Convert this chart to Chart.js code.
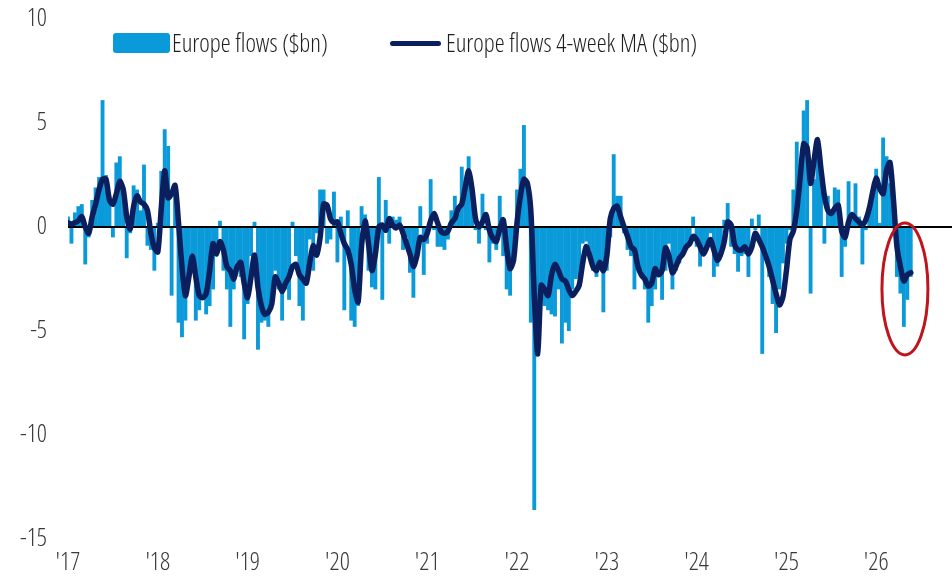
<!DOCTYPE html>
<html lang="en">
<head>
<meta charset="UTF-8">
<title>Europe flows</title>
<script src="https://cdn.jsdelivr.net/npm/chart.js@4.4.1/dist/chart.umd.min.js"></script>
<style>
  body { margin: 0; background: #fff; overflow: hidden; }
  #wrap { position: relative; width: 952px; height: 580px; }
  .lg { position: absolute; font-family: 'Open Sans', sans-serif; font-weight: 300; font-stretch: 83%;
        font-size: 25px; line-height: 25px; color: #1e1e1e; white-space: nowrap; }
  .sw-bar { position: absolute; left: 113px; top: 33px; width: 57px; height: 20px; background: #0a9ad9; border-radius: 3px; }
  .sw-line { position: absolute; left: 390px; top: 41px; width: 51px; height: 5px; background: #0b1f5e; border-radius: 3px; }
</style>
</head>
<body>
<div id="wrap">
  <canvas id="chart" width="952" height="580"></canvas>
  <div class="sw-bar"></div>
  <div class="lg" style="left:172px; top:30px;">Europe flows ($bn)</div>
  <div class="sw-line"></div>
  <div class="lg" style="left:446px; top:30px;">Europe flows 4-week MA ($bn)</div>
</div>
<script>
// fortnightly readings, first one at the start of 2017
const startYear = 2017;
const perYear = 26;

const flows = [
  0.5, -0.8, 0.7, 1.0, 1.1, -1.8, -0.5, 1.3, 1.9, 2.4,
  6.1, 2.5, 1.5, -0.5, 3.1, 3.4, 1.9, -1.5, -0.3, 2.0,
  1.8, 0.8, 3.0, -0.9, -1.1, -2.1, 0.2, 2.7, 4.7, 3.9,
  -3.3, 1.5, -4.6, -5.3, -4.5, -2.4, -1.3, -4.5, -4.0, -3.3,
  -4.2, -3.8, -3.0, -0.9, 0.3, -2.1, -3.0, -4.8, -3.0, -1.7,
  -2.4, -5.4, -3.7, -1.4, 0.25, -5.9, -4.6, -4.5, -4.8, -3.7,
  -2.1, -3.0, -4.5, -3.0, -3.5, 0.25, -1.4, -3.8, -4.5, -2.4,
  -0.6, -2.1, -0.3, 1.8, 1.8, -0.8, -0.6, 1.7, -1.7, 0.5,
  -4.0, 0.8, -4.5, -4.8, -3.8, 1.0, 0.6, -2.1, -2.9, -3.0,
  2.4, -3.5, 1.3, -0.8, 0.5, 0.35, 0.5, -1.1, -0.5, -2.2,
  -3.4, -1.1, 1.0, -2.3, -0.8, 2.3, -0.15, -0.95, -0.95, -1.1,
  -0.6, 0.8, 1.5, 0.65, 2.9, 1.8, 3.4, 1.8, -0.15, -0.8,
  1.6, -0.15, -1.7, -0.8, -1.1, 1.5, -1.4, -3.0, -3.3, -1.4,
  1.8, 2.8, 4.9, 1.9, -4.6, -13.6, -5.3, -2.7, -3.8, -4.0,
  -4.2, -4.3, -3.0, -5.6, -4.6, -5.0, -3.0, -2.5, -2.4, -0.8,
  -0.7, -1.1, -2.1, -2.4, -1.75, -4.1, -2.1, -0.5, 3.5, 1.5,
  1.5, -0.3, -1.1, -1.4, -3.0, -1.9, -2.1, -3.0, -4.6, -3.8,
  -3.0, -2.4, -3.5, -2.1, -0.8, -3.0, -2.1, -1.75, -1.4, -1.1,
  -0.6, 0.5, -0.95, -1.9, -1.3, -0.8, -0.3, -2.4, -1.9, -1.1,
  0.35, 1.15, -0.95, -1.3, -2.15, -1.4, -1.3, -2.4, 0.4, -0.15,
  0.6, -6.1, -1.3, -2.4, -3.7, -5.1, -3.0, -1.75, -0.8, -0.15,
  1.8, 4.1, 2.3, 5.6, 6.1, -3.2, 2.3, 3.7, 2.6, -0.8,
  1.5, 0.8, 1.9, 1.8, -2.4, -0.95, 2.2, 0.35, 2.1, 0.5,
  -1.8, -0.15, 0.8, 1.8, 2.8, 0.2, 4.3, 3.4, 2.1, 0.8,
  -2.4, -3.2, -4.8, -3.5, -2.4
];

const flowsMA = [
  0.2, 0.15, 0.2, 0.3, 0.5, 0.0, -0.3, 0.5, 1.1, 1.8,
  2.3, 2.3, 1.3, 1.1, 1.6, 2.2, 1.8, 0.5, -0.1, 1.0,
  1.5, 1.2, 1.1, 0.8, -0.3, -1.0, -1.2, 0.9, 2.7, 1.4,
  1.6, 2.0, 0.2, -1.9, -3.3, -2.4, -1.4, -2.4, -3.3, -3.4,
  -3.2, -2.1, -0.8, -1.3, -0.7, -1.1, -1.9, -2.1, -2.5, -1.9,
  -1.7, -2.7, -3.4, -2.4, -1.35, -2.9, -3.8, -4.2, -4.1, -3.7,
  -2.4, -2.7, -3.1, -2.7, -2.4, -1.9, -1.8, -2.3, -2.5, -2.7,
  -1.7, -0.9, -1.35, -0.5, 1.1, 1.05, 0.4, 0.2, 0.25, -0.3,
  -0.8, -1.1, -1.8, -3.0, -3.6, -0.9, 0.3, -0.8, -2.1, -1.3,
  0.0, 0.1, -0.15, 0.4, 0.1, -0.05, 0.1, -0.3, -0.8, -1.3,
  -1.9, -1.4, -0.5, -0.6, -0.3, 0.3, 0.65, 0.2, -0.2, -0.3,
  -0.2, 0.2, 0.4, 0.9, 1.1, 1.9, 2.7, 1.8, 0.4, 0.0,
  0.25, 0.6, -0.15, -0.55, -0.7, -0.1, 0.35, -1.0, -2.0, -1.6,
  0.2, 1.5, 2.3, 2.1, 0.8, -3.3, -6.1, -2.8, -3.0, -3.3,
  -2.3, -1.8, -2.1, -2.5, -2.6, -3.0, -3.3, -3.1, -2.8, -1.75,
  -0.95, -1.35, -1.9, -2.1, -1.7, -2.1, -1.4, 0.4, 0.9, 1.0,
  0.5, 0.0, -0.45, -0.95, -1.1, -1.9, -2.3, -2.5, -2.85, -2.7,
  -2.0, -2.3, -2.1, -1.0, -1.4, -2.2, -1.9, -1.5, -1.3, -0.95,
  -0.8, -0.45, -0.6, -0.95, -1.3, -0.95, -0.6, -1.1, -1.6, -1.3,
  -0.7, 0.25, 0.1, -0.85, -1.1, -1.1, -0.95, -1.3, -0.95, -0.3,
  -0.6, -0.95, -1.4, -1.9, -2.55, -3.2, -3.75, -3.35, -2.1, -0.6,
  -0.2, 0.8, 2.4, 4.0, 3.8, 2.1, 3.2, 4.2, 2.8, 1.5,
  0.8, 0.65, 0.9, 1.05, -0.2, -0.5, 0.25, 0.6, 0.4, 0.25,
  0.1, 0.35, 0.9, 1.7, 2.35, 1.85, 1.6, 2.75, 3.1, 1.3,
  -0.95, -1.9, -2.6, -2.3, -2.2
];

const yearTicks = [2017, 2018, 2019, 2020, 2021, 2022, 2023, 2024, 2025, 2026];
const yearLabels = ["'17", "'18", "'19", "'20", "'21", "'22", "'23", "'24", "'25", "'26"];

// red ring drawn round the latest readings (centre and half-axes in data units)
const ringCentre = [2026.32, -2.98];
const ringRadius = [0.256, 3.17];

const weeks = flows.map((_, i) => startYear + i / perYear);

// weight string carries the stretch too, so the canvas gets a condensed face
const tickFont = { family: "'Open Sans', sans-serif", size: 25, weight: '300 condensed' };

const zeroLine = {
  id: 'zeroLine',
  beforeDatasetDraw(chart, args) {
    if (args.index !== 1) return;
    const { ctx, chartArea, scales } = chart;
    const y = scales.y.getPixelForValue(0);
    ctx.save();
    ctx.strokeStyle = '#000';
    ctx.lineWidth = 2;
    ctx.beginPath();
    ctx.moveTo(chartArea.left, y);
    ctx.lineTo(chartArea.right, y);
    ctx.stroke();
    ctx.restore();
  }
};

const ring = {
  id: 'ring',
  afterDatasetsDraw(chart) {
    const { ctx, scales } = chart;
    const cx = scales.x.getPixelForValue(ringCentre[0]);
    const cy = scales.y.getPixelForValue(ringCentre[1]);
    const rx = scales.x.getPixelForValue(ringCentre[0] + ringRadius[0]) - cx;
    const ry = cy - scales.y.getPixelForValue(ringCentre[1] + ringRadius[1]);
    ctx.save();
    ctx.strokeStyle = '#c0141c';
    ctx.lineWidth = 3;
    ctx.beginPath();
    ctx.ellipse(cx, cy, rx, ry, 0, 0, Math.PI * 2);
    ctx.stroke();
    ctx.restore();
  }
};

new Chart(document.getElementById('chart'), {
  type: 'bar',
  data: {
    labels: weeks,
    datasets: [
      {
        label: 'Europe flows ($bn)',
        data: flows,
        backgroundColor: '#0a9ad9',
        borderWidth: 0,
        barPercentage: 1.12,
        categoryPercentage: 1.0,
        order: 2
      },
      {
        type: 'line',
        label: 'Europe flows 4-week MA ($bn)',
        data: flowsMA,
        borderColor: '#0b1f5e',
        borderWidth: 5.5,
        pointRadius: 0,
        tension: 0.25,
        borderJoinStyle: 'round',
        borderCapStyle: 'round',
        order: 1
      }
    ]
  },
  options: {
    responsive: false,
    devicePixelRatio: 1,
    animation: false,
    layout: { padding: { top: 19, right: 0, bottom: 0, left: 0 } },
    plugins: { legend: { display: false }, tooltip: { enabled: false } },
    scales: {
      x: {
        type: 'linear',
        min: 2017,
        max: 2026.844,
        offset: false,
        grid: { display: false, drawTicks: false },
        border: { display: false },
        afterBuildTicks(s) { s.ticks = yearTicks.map(v => ({ value: v })); },
        afterFit(s) { s.height = 41; s.paddingLeft = 0; s.paddingRight = 0; },
        ticks: {
          autoSkip: false,
          maxRotation: 0,
          padding: 9,
          color: '#3a3a3a',
          font: tickFont,
          callback: v => yearLabels[yearTicks.indexOf(v)]
        }
      },
      y: {
        min: -15,
        max: 10,
        grid: { display: false, drawTicks: false },
        border: { display: false },
        // keep the label gap from pushing the plot down
        afterFit(s) { s.width = 68; s.paddingTop = 0; s.paddingBottom = 0; },
        ticks: {
          stepSize: 5,
          padding: 21,
          color: '#3a3a3a',
          font: tickFont
        }
      }
    }
  },
  plugins: [zeroLine, ring]
});
</script>
</body>
</html>
